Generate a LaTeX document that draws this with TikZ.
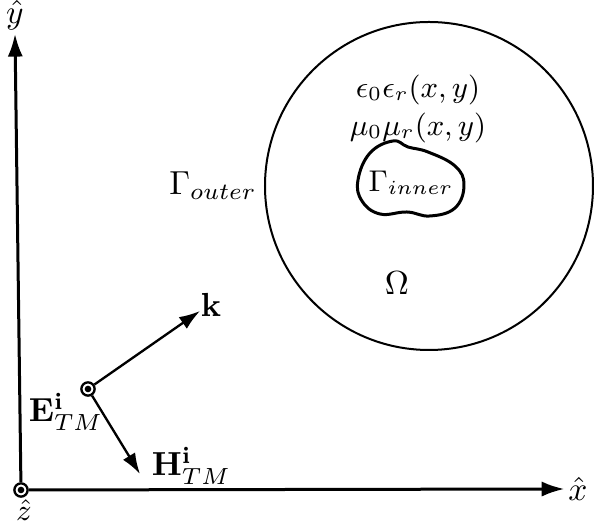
\documentclass[tikz,border=0pt]{standalone}
\usepackage{amsmath, amssymb}
\usepackage{tikz}
\usetikzlibrary{
    arrows.meta,
    positioning
}
\tikzset{
    axis/.style={
        -{Latex[length=2.4mm,width=1.6mm]},
        line width=0.9pt
    },
    vec/.style={
        -{Latex[length=2.2mm,width=1.5mm]},
        line width=0.7pt
    },
    dotring/.style={
        circle,
        draw=black,
        line width=0.7pt,
        inner sep=0pt,
        minimum size=1.4mm,
        path picture={\fill (path picture bounding box.center) circle (0.35mm);}
    },
    lbl/.style={
        inner sep=1pt
    }
}
\begin{document}
\begin{tikzpicture}[x=0.3pt, y=-0.3pt]
\useasboundingbox (0,0) rectangle (594,525);

% axes
\node[dotring] (origin) at (21,490) {};
\node[lbl] (xlab) at (578,489) {$\hat{x}$};
\node[lbl] (ylab) at (15,15) {$\hat{y}$};
\node[lbl, inner sep=0pt, anchor=north, font=\small] (zlab) at (24,499) {$\hat{z}$};
\draw[axis] (origin) -- (xlab.west);
\draw[axis] (origin) -- (ylab.south);

% scatterer
\draw[line width=0.6pt] (429,186) circle[radius=164];
\draw[line width=0.9pt] plot[smooth cycle, tension=0.7] coordinates {
    (358,180) (370,153) (393,141) (408,147) (428,152) (455,166)
    (464,185) (455,208) (430,216) (407,212) (380,214) (362,201)};
\node[lbl, font=\small] (ginner) at (411,183) {$\Gamma_{inner}$};
\node[lbl] (gouter) at (213,186) {$\Gamma_{outer}$};
\node[lbl, font=\small] (eps) at (418,90) {$\epsilon_0\epsilon_r(x,y)$};
\node[lbl, font=\small, below=0pt of eps] (mu) {$\mu_0\mu_r(x,y)$};
\node[lbl] (omega) at (397,283) {$\Omega$};

% incident field
\node[dotring] (src) at (88,389) {};
\coordinate (kend) at (200,311);
\coordinate (hend) at (140,474);
\node[lbl] (klab) at (211,305) {$\mathbf{k}$};
\node[lbl, anchor=west] (hlab) at (148,466) {$\mathbf{H}^{\mathbf{i}}_{TM}$};
\node[lbl] (elab) at (66,412) {$\mathbf{E}^{\mathbf{i}}_{TM}$};
\draw[vec] (src) -- (kend);
\draw[vec] (src) -- (hend);
\end{tikzpicture}
\end{document}
